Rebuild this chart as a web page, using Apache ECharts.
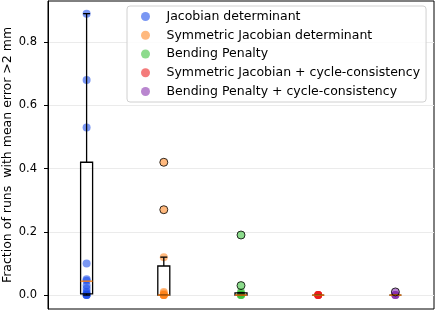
<!DOCTYPE html>
<html><head><meta charset="utf-8">
<script src="https://cdn.jsdelivr.net/npm/echarts@6/dist/echarts.min.js"></script>
<style>html,body{margin:0;padding:0;background:#fff}#c{width:436px;height:314px}</style>
</head><body><div id="c"></div>
<script>
const categories = ["Jacobian determinant","Symmetric Jacobian determinant","Bending Penalty","Symmetric Jacobian + cycle-consistency","Bending Penalty + cycle-consistency"];
const colors = ["rgba(25,75,235,0.72)","rgba(255,130,25,0.7)","rgba(50,190,50,0.7)","rgba(235,20,20,0.7)","rgba(130,40,170,0.7)"];
// individual run values per method
const pointsJacobian = [0.89,0.68,0.53,0.10,0.05,0.045,0.03,0.02,0.01,0.005,0,0,0];
const pointsSymJacobian = [0.42,0.27,0.12,0.01,0.005,0,0,0,0];
const pointsBending = [0.19,0.03,0.01,0.005,0,0,0];
const pointsSymJacCycle = [0,0,0,0];
const pointsBendingCycle = [0.01,0,0,0];
const allPoints = [pointsJacobian,pointsSymJacobian,pointsBending,pointsSymJacCycle,pointsBendingCycle];
// box statistics: [whiskerLow, Q1, median, Q3, whiskerHigh]
const boxStats = [
  [0,0.004,0.044,0.42,0.89],
  [0,0,0,0.092,0.12],
  [0,0,0,0.007,0.007],
  [0,0,0,0,0],
  [0,0,0,0,0]
];
// outliers (fliers): [categoryIndex, value]
const fliers = [[1,0.42],[1,0.27],[2,0.19],[2,0.03],[4,0.01]];
const yTicks = [0,0.2,0.4,0.6,0.8];

const chart = echarts.init(document.getElementById('c'));
const series = [];
allPoints.forEach((pts,i)=>{
  series.push({
    name: categories[i], type:'scatter', z:2,
    symbolSize: 8,
    itemStyle:{color:colors[i]},
    data: pts.map(v=>[i,v]),
    emphasis:{disabled:true}
  });
});
series.push({
  type:'custom', z:3, silent:true,
  data: boxStats.map((s,i)=>[i].concat(s)),
  encode:{x:0,y:[1,2,3,4,5]},
  renderItem:(params,api)=>{
    const x = api.value(0);
    const pLo = api.coord([x,api.value(1)]);
    const pQ1 = api.coord([x,api.value(2)]);
    const pMed = api.coord([x,api.value(3)]);
    const pQ3 = api.coord([x,api.value(4)]);
    const pHi = api.coord([x,api.value(5)]);
    const cx = pLo[0], hw = 6, cw = 3.5;
    const ls = {stroke:'#000',lineWidth:1.3,fill:null};
    return {type:'group',children:[
      {type:'rect',shape:{x:cx-hw,y:pQ3[1],width:2*hw,height:pQ1[1]-pQ3[1]},style:{stroke:'#000',lineWidth:1.3,fill:'none'}},
      {type:'line',shape:{x1:cx,y1:pQ3[1],x2:cx,y2:pHi[1]},style:ls},
      {type:'line',shape:{x1:cx,y1:pQ1[1],x2:cx,y2:pLo[1]},style:ls},
      {type:'line',shape:{x1:cx-cw,y1:pHi[1],x2:cx+cw,y2:pHi[1]},style:ls},
      {type:'line',shape:{x1:cx-cw,y1:pLo[1],x2:cx+cw,y2:pLo[1]},style:ls},
      {type:'line',shape:{x1:cx-hw,y1:pMed[1],x2:cx+hw,y2:pMed[1]},style:{stroke:'#ff7f0e',lineWidth:1.3}}
    ]};
  }
});
series.push({
  type:'scatter', z:4, silent:true, symbolSize:8,
  itemStyle:{color:'rgba(0,0,0,0)',borderColor:'#000',borderWidth:1},
  data: fliers
});

chart.setOption({
  animation:false,
  textStyle:{fontFamily:'DejaVu Sans'},
  grid:{left:48,right:2,top:1,bottom:5,show:true,borderColor:'#000',borderWidth:1,outerBoundsMode:'none',containLabel:false},
  legend:{
    data: categories, orient:'vertical', left:127, top:6,
    padding:[4,6,4,14], itemWidth:36, itemHeight:9, itemGap:5.75,
    icon:'circle',
    backgroundColor:'rgba(255,255,255,0.85)', borderColor:'#d0d0d0', borderWidth:1, borderRadius:3,
    textStyle:{fontSize:12.5,color:'#000',fontFamily:'DejaVu Sans',lineHeight:10,padding:[0,0,0,-2]}
  },
  xAxis:{type:'category',data:categories,boundaryGap:true,
    axisLine:{show:false},axisTick:{show:false},axisLabel:{show:false},splitLine:{show:false}},
  yAxis:{type:'value',min:-0.044,max:0.93,
    name:'Fraction of runs  with mean error >2 mm',nameLocation:'middle',nameGap:34,nameMoveOverlap:false,
    nameTextStyle:{fontSize:12.5,color:'#000',fontFamily:'DejaVu Sans'},
    axisLine:{show:true,lineStyle:{color:'#000'}},
    axisTick:{show:true,length:4,lineStyle:{color:'#000'},customValues:yTicks},
    axisLabel:{fontSize:11.5,color:'#000',margin:11,customValues:yTicks,
      formatter:v=>v.toFixed(1)},
    splitLine:{show:true,lineStyle:{color:'#ebebeb',width:1}}},
  series: series
});
</script></body></html>
